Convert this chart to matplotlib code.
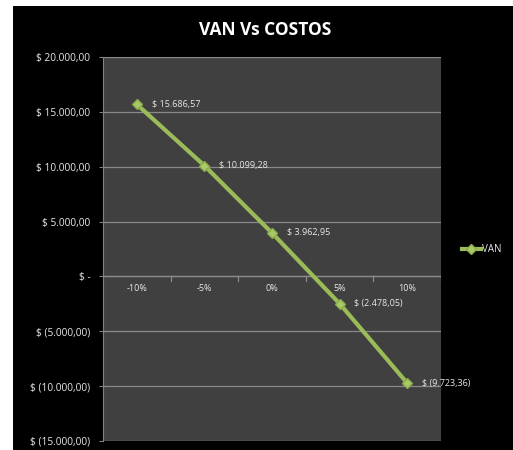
import matplotlib
matplotlib.use("Agg")
import matplotlib.pyplot as plt
from matplotlib.patches import Rectangle

categories = ["-10%", "-5%", "0%", "5%", "10%"]
van = [15686.57, 10099.28, 3962.95, -2478.05, -9723.36]
van_labels = ["$ 15.686,57", "$ 10.099,28", "$ 3.962,95", "$ (2.478,05)", "$ (9.723,36)"]
y_ticks = [20000, 15000, 10000, 5000, 0, -5000, -10000, -15000]
y_tick_labels = ["$ 20.000,00", "$ 15.000,00", "$ 10.000,00", "$ 5.000,00", "$ -",
                 "$ (5.000,00)", "$ (10.000,00)", "$ (15.000,00)"]

plt.rcParams["font.family"] = ["Open Sans", "DejaVu Sans"]

W, H = 513, 450
fig = plt.figure(figsize=(W / 100, H / 100), dpi=100)
fig.patch.set_facecolor("white")
# black chart area with white margin on left/top
fig.add_artist(Rectangle((13 / W, 0), 1 - 13 / W, 1 - 6 / H, transform=fig.transFigure,
                         facecolor="black", edgecolor="none", zorder=0))

ax = fig.add_axes([103 / W, 1 - 441 / H, 338 / W, (441 - 57) / H])
ax.set_facecolor("#404040")
ax.set_xlim(0, len(categories))
ax.set_ylim(-15000, 20000)

for s in ["top", "right"]:
    ax.spines[s].set_visible(False)
ax.spines["left"].set_color("#808080")
ax.spines["bottom"].set_visible(False)

ax.set_yticks(y_ticks)
ax.set_yticklabels(y_tick_labels, color="#e8e8e8", fontsize=7.3)
ax.tick_params(axis="y", length=3, color="#808080", pad=6)
ax.grid(axis="y", color="#8a8a8a", lw=0.9)
ax.set_axisbelow(True)

# category axis crosses at zero
ax.axhline(0, color="#8a8a8a", lw=0.9, zorder=1)
xs = [i + 0.5 for i in range(len(categories))]
ax.set_xticks([])
for i in range(1, len(categories) + 1):
    ax.plot([i, i], [0, -450], color="#8a8a8a", lw=0.9, zorder=1)
for x, c in zip(xs, categories):
    ax.text(x, -1100, c, color="#e8e8e8", fontsize=6.5, ha="center", va="center")

ax.plot(xs, van, color="#9bbb59", lw=3, marker="D", ms=5.5,
        markerfacecolor="#a9c96a", markeredgecolor="#8aab48", zorder=3, label="VAN")
for x, v, lab in zip(xs, van, van_labels):
    ax.text(x + 0.22, v, lab, color="#e8e8e8", fontsize=6.5, ha="left", va="center")

fig.text(265 / W, 1 - 30 / H, "VAN Vs COSTOS", color="white", fontsize=12.5,
         fontweight="bold", ha="center", va="center")

leg = fig.legend(loc="center left", bbox_to_anchor=(453 / W, 1 - 250 / H), frameon=False,
                 handlelength=2.0, handletextpad=0.1, fontsize=7)
for t in leg.get_texts():
    t.set_color("#e8e8e8")

fig.savefig("out.png", dpi=100, facecolor=fig.get_facecolor())
